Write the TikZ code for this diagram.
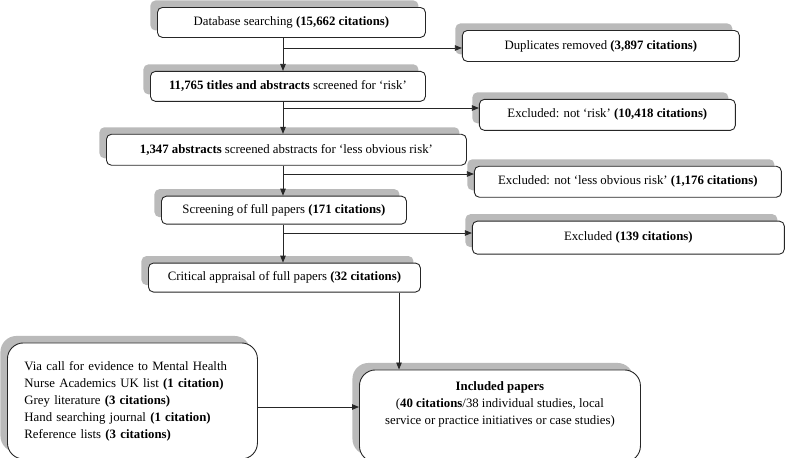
\documentclass[tikz,border=0pt]{standalone}
\usepackage{fontspec}
\setmainfont{Liberation Serif}
\usepackage{tikz}
\usetikzlibrary{positioning}
\usetikzlibrary{arrows.meta,shadows}
\tikzstyle{flow box}=[draw=black!85,line width=0.9pt,rounded corners=5pt,fill=white,
  general shadow={fill=black!27,shadow xshift=-7pt,shadow yshift=7pt},
  inner xsep=4pt,inner ysep=2pt,align=center,
  font=\fontsize{12.8pt}{17pt}\selectfont]
\tikzstyle{big box}=[rounded corners=16pt]
\tikzstyle{flow edge}=[-{Triangle[length=7pt,width=5.5pt]},line width=0.8pt,draw=black!85]
\newcommand{\flownode}[3][]{
  \node [flow box, #1] (#2) {#3}
}

\begin{document}
\begin{tikzpicture}[x=1pt,y=-1pt]
\useasboundingbox (0,0) rectangle (785,458);
        \flownode[anchor=north west, at={(157,7)}, minimum width=268pt, minimum height=30pt]{search}{Database searching \textbf{(15,662 citations)}};
        \flownode[below right=23pt and 36pt of search.north east, minimum width=277pt, minimum height=31pt]{dupl}{Duplicates removed \textbf{(3,897 citations)}};
        \flownode[below right=33pt and -7pt of search.south west, minimum width=275pt, minimum height=30pt]{titles}{\textbf{11,765 titles and abstracts} screened for ‘risk’};
         \flownode[below right=28pt and 53pt of titles.north east, minimum width=256pt, minimum height=31pt]{exrisk}{Excluded: not ‘risk’ \textbf{(10,418 citations)}};
         \flownode[below right=32pt and -44pt of titles.south west, minimum width=360pt, minimum height=31pt]{abstr}{\textbf{1,347 abstracts} screened abstracts for ‘less obvious risk’};
          \flownode[below right=32pt and 7pt of abstr.north east, minimum width=307pt, minimum height=31pt]{exobv}{Excluded: not ‘less obvious risk’ \textbf{(1,176 citations)}};
    \flownode[below right=30pt and 55pt of abstr.south west, minimum width=245pt, minimum height=28pt]{full}{Screening of full papers \textbf{(171 citations)}};
    \flownode[below right=25pt and 65pt of full.north east, minimum width=312pt, minimum height=33pt]{excl}{Excluded \textbf{(139 citations)}};
    \flownode[below right=38pt and -13pt of full.south west, minimum width=272pt, minimum height=29pt]{apprais}{Critical appraisal of full papers \textbf{(32 citations)}};
    \flownode[big box, below right=50pt and -141pt of apprais.south west, text width=216pt, minimum height=116pt, align=left, inner xsep=17pt]{other}{Via call for evidence to Mental Health\\Nurse Academics UK list \textbf{(1 citation)}\\Grey literature \textbf{(3 citations)}\\Hand searching journal \textbf{(1 citation)}\\Reference lists \textbf{(3 citations)}};
    \flownode[big box, below right=77pt and 211pt of apprais.south west, minimum width=281pt, minimum height=92pt, text depth=26pt]{incl}{\textbf{Included papers}\\(\textbf{40 citations}/38 individual studies, local\\service or practice initiatives or case studies)};

\coordinate (trunk) at (283,0);
\coordinate (b1) at (283,48);
\coordinate (b2) at (283,108);
\coordinate (b3) at (283,174);
\coordinate (b4) at (283,233);
\coordinate (drop) at (399,0);
\coordinate (side) at (0,407);
      \draw[flow edge] (search.south -| trunk) -- (titles.north -| trunk);
            \draw[flow edge] (titles.south -| trunk) -- (abstr.north -| trunk);
                  \draw[flow edge] (abstr.south -| trunk) -- (full.north -| trunk);
                        \draw[flow edge] (full.south -| trunk) -- (apprais.north -| trunk);
      \draw[flow edge] (b1) -- (b1 -| dupl.west);
      \draw[flow edge] (b2) -- (b2 -| exrisk.west);
      \draw[flow edge] (b3) -- (b3 -| exobv.west);
      \draw[flow edge] (b4) -- (b4 -| excl.west);
      \draw[flow edge] (apprais.south -| drop) -- (incl.north -| drop);
      \draw[flow edge] (other.east |- side) -- (incl.west |- side);
      \end{tikzpicture}
\end{document}
